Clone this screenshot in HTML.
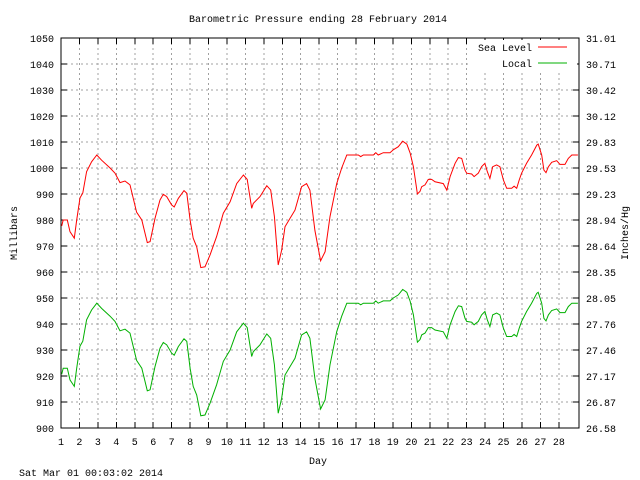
<!DOCTYPE html>
<html><head><meta charset="utf-8"><style>
html,body{margin:0;padding:0;background:#fff;}
svg{display:block;font-family:"Liberation Mono",monospace;font-size:10px;}
</style></head><body>
<svg id="chart" width="640" height="480" xmlns="http://www.w3.org/2000/svg">
<rect width="640" height="480" fill="#fff"/>
<text x="318" y="22" text-anchor="middle">Barometric Pressure ending 28 February 2014</text>
<text transform="translate(17,233) rotate(-90)" text-anchor="middle">Millibars</text>
<text transform="translate(628,233) rotate(-90)" text-anchor="middle">Inches/Hg</text>
<text x="318" y="464" text-anchor="middle">Day</text>
<text x="19" y="476">Sat Mar 01 00:03:02 2014</text>
<g id="grid" shape-rendering="crispEdges"></g>
<g id="axes"></g>
<g id="series"></g>
<g id="legend"></g>
</svg>
<script>
const yTicks=[900,910,920,930,940,950,960,970,980,990,1000,1010,1020,1030,1040,1050];
const y2Labels=["26.58","26.87","27.17","27.46","27.76","28.05","28.35","28.64","28.94","29.23","29.53","29.83","30.12","30.42","30.71","31.01"];
const dayTicks=[1,2,3,4,5,6,7,8,9,10,11,12,13,14,15,16,17,18,19,20,21,22,23,24,25,26,27,28];
const days=[1.04,1.12,1.34,1.49,1.72,1.85,2.03,2.18,2.39,2.66,2.94,3.2,3.66,3.93,4.2,4.47,4.74,5.1,5.38,5.68,5.83,6.1,6.37,6.55,6.73,7.0,7.14,7.36,7.67,7.82,8.0,8.17,8.36,8.58,8.81,9.08,9.44,9.8,10.17,10.53,
10.89,11.1,11.34,11.43,11.79,12.16,12.37,12.57,12.78,12.97,13.15,13.42,13.69,14.05,14.32,14.5,14.77,15.08,15.32,15.59,15.95,16.22,16.5,17.12,17.25,17.4,17.94,18.07,18.2,18.48,18.84,19.02,19.29,19.53,19.75,19.93,
20.11,20.33,20.47,20.56,20.74,20.92,21.1,21.28,21.73,21.92,22.1,22.37,22.55,22.73,22.91,23.0,23.27,23.4,23.63,23.81,23.99,24.12,24.26,24.41,24.62,24.8,24.99,25.17,25.44,25.57,25.71,25.85,25.98,26.25,26.52,26.8,26.88,27.07,27.19,27.3,27.43,27.61,27.88,28.06,28.33,28.51,28.7,29.03];
const seaLevel=[977.7,980,980,975.5,973,980,988.5,990.4,998.6,1002.4,1005,1003,1000,998,994.4,995,993.5,983,980,971.3,971.7,980.6,987.7,989.9,989,985.8,985,988.3,991.3,990.3,980,973,969.7,961.7,962,966.5,973.6,982.6,987,994,
997.3,995.6,984.5,986.4,989,993.2,991.5,981.3,962.7,968.5,977.4,980.6,983.8,992.8,994,991.5,976,964.3,967.8,981.3,994,1000,1005,1005,1004.4,1005,1005,1005.9,1005,1005.9,1005.9,1007,1008.2,1010.3,1009.2,1005.8,
1000.5,990,991,992.8,993.5,995.6,995.6,994.7,994,991.5,996.7,1001.8,1004,1003.7,999.2,998,997.7,996.7,998,1000.5,1001.8,998.6,996,1000.5,1001.2,1000.5,995.4,992.2,992.2,993,992.2,995.4,998,1001.8,1005,1008.8,1009.2,1005,999.2,998.2,1000.5,1002.2,1002.8,1001.4,1001.4,1003.7,1005,1005];
const local=[920.7,923,923,918.5,916,923,931.5,933.4,941.6,945.4,948,946,943,941,937.4,938,936.5,926,923,914.3,914.7,923.6,930.7,932.9,932,928.8,928,931.3,934.3,933.3,923,916,912.7,904.7,905,909.5,916.6,925.6,930,937,
940.3,938.6,927.5,929.4,932,936.2,934.5,924.3,905.7,911.5,920.4,923.6,926.8,935.8,937,934.5,919,907.3,910.8,924.3,937,943,948,948,947.4,948,948,948.9,948,948.9,948.9,950,951.2,953.3,952.2,948.8,
943.5,933,934,935.8,936.5,938.6,938.6,937.7,937,934.5,939.7,944.8,947,946.7,942.2,941,940.7,939.7,941,943.5,944.8,941.6,939,943.5,944.2,943.5,938.4,935.2,935.2,936,935.2,938.4,941,944.8,948,951.8,952.2,948,942.2,941.2,943.5,945.2,945.8,944.4,944.4,946.7,948,948];

const L=61,R=579,T=38,B=428;
const X=d=>L+(d-1)*18.44;
const Y=v=>B-(v-900)*2.6;
const NS="http://www.w3.org/2000/svg";
function mk(tag,parent,attrs){const e=document.createElementNS(NS,tag);for(const k in attrs)e.setAttribute(k,attrs[k]);parent.appendChild(e);return e;}
const grid=document.getElementById('grid'),axes=document.getElementById('axes'),series=document.getElementById('series'),legend=document.getElementById('legend');
yTicks.forEach((v,i)=>{
  const y=Y(v);
  if(i>0&&i<yTicks.length-1){const g=mk('line',grid,{x1:L,x2:R,y1:y,y2:y,stroke:'#a0a0a0','stroke-dasharray':'2,3'});
  
  }
  const t=mk('text',axes,{x:L-7,y:y+4,'text-anchor':'end'});t.textContent=v;
  
  
  const t2=mk('text',axes,{x:R+7,y:y+4});t2.textContent=y2Labels[i];
  
  
  mk('line',axes,{x1:L,x2:L+6,y1:y,y2:y,stroke:'#000','shape-rendering':'crispEdges'});
  mk('line',axes,{x1:R-6,x2:R,y1:y,y2:y,stroke:'#000','shape-rendering':'crispEdges'});
});
dayTicks.forEach(d=>{
  const x=X(d);
  if(d>1){const g=mk('line',grid,{x1:x,x2:x,y1:T,y2:B,stroke:'#a0a0a0','stroke-dasharray':'2,3'});
  
  }
  const t=mk('text',axes,{x:x,y:445,'text-anchor':'middle'});t.textContent=d;
  
  
  mk('line',axes,{x1:x,x2:x,y1:B,y2:B-6,stroke:'#000','shape-rendering':'crispEdges'});
  mk('line',axes,{x1:x,x2:x,y1:T,y2:T+6,stroke:'#000','shape-rendering':'crispEdges'});
});
const lb=mk('rect',legend,{x:470,y:40,width:107,height:30,fill:'#fff'});


const frame=mk('rect',axes,{x:L,y:T,width:R-L,height:B-T,fill:'none',stroke:'#000','shape-rendering':'crispEdges'});


function line(vals,color,name){
  const p=mk('polyline',series,{points:days.map((d,i)=>X(d).toFixed(1)+','+Y(vals[i]).toFixed(1)).join(' '),fill:'none',stroke:color,'stroke-width':1});
  
  
}
line(seaLevel,'#ff0000','sea-level-line');
line(local,'#00b000','local-line');
[['Sea Level','#ff0000',51],['Local','#00b000',67]].forEach(([n,c,y])=>{
  const t=mk('text',legend,{x:532,y:y,'text-anchor':'end'});t.textContent=n;
  
  
  mk('line',legend,{x1:538,x2:567,y1:y-4,y2:y-4,stroke:c});
});
</script>
</body></html>
